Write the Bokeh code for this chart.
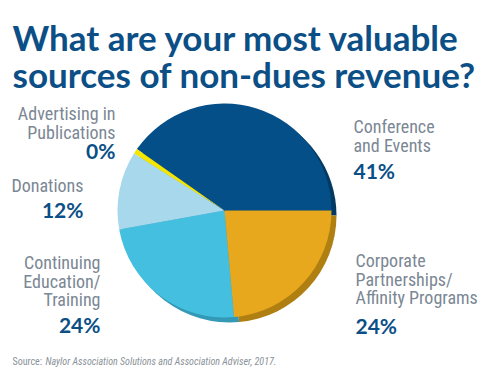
import numpy as np
from bokeh.plotting import figure
from bokeh.models import Range1d, ColumnDataSource
from bokeh.core.properties import value
from bokeh.embed import file_html
from bokeh.resources import INLINE

# ---- data ----
categories = ["Conference\nand Events", "Advertising in\nPublications", "Donations",
              "Continuing\nEducation/\nTraining", "Corporate\nPartnerships/\nAffinity Programs"]
shares = [41, 0.8, 12, 24, 24]          # estimated underlying shares (0% slice is a sliver)
pct_labels = ["41%", "0%", "12%", "24%", "24%"]
title_lines = ["What are your most valuable", "sources of non-dues revenue?"]
source_prefix = "Source:"
source_text = "Naylor Association Solutions and Association Adviser, 2017."

# ---- styles ----
colors = ["#044f87", "#f4e600", "#a8d8ec", "#45bfe0", "#e8a81e"]
shadow_colors = ["#033a63", "#c9bd00", "#86b3c6", "#3399b6", "#b07f12"]
W, H = 484, 375
cx, cy, R = 224, 165, 107
sdx, sdy = 5, -5

p = figure(width=W, height=H, x_range=Range1d(0, W), y_range=Range1d(0, H),
           output_backend="svg", toolbar_location=None, min_border=0)
p.axis.visible = False
p.grid.visible = False
p.outline_line_color = None
p.background_fill_color = "white"

frac = np.array(shares, dtype=float) / sum(shares)
ends = np.cumsum(frac) * 2 * np.pi
starts = np.concatenate([[0.0], ends[:-1]])
src = ColumnDataSource(dict(start=starts, end=ends, color=colors, shadow=shadow_colors))

p.wedge(x=cx + sdx, y=cy + sdy, radius=R, start_angle="start", end_angle="end",
        fill_color="shadow", line_color=None, source=src)
p.wedge(x=cx, y=cy, radius=R, start_angle="start", end_angle="end",
        fill_color="color", line_color=None, source=src)

GRAY = "#7b8794"
BLUE = "#0b4f86"
label_font = value("'Liberation Sans Narrow', 'Roboto Condensed', Roboto")
pct_font = value("Lato")

# label layout: (x, first baseline y in image px, align, pct baseline y in image px)
layout = [
    (353, 134, "left", 178),    # Conference
    (115, 121, "right", 158),   # Advertising
    (83, 193, "right", 217),    # Donations
    (100, 270, "right", 332),   # Continuing
    (355, 268, "left", 333),    # Corporate
]
line_h = 18.5
for cat, pct, (x, y0, align, yp) in zip(categories, pct_labels, layout):
    lines = cat.split("\n")
    p.text(x=[x] * len(lines), y=[383 - (y0 + i * line_h) for i in range(len(lines))],
           text=lines, text_font=label_font, text_font_size="18px",
           text_color=GRAY, text_align=align, text_baseline="alphabetic")
    p.text(x=[x], y=[383 - yp], text=[pct], text_font=pct_font, text_font_size="21px",
           text_font_style="bold", text_color=BLUE, text_align=align, text_baseline="alphabetic")

for i, t in enumerate(title_lines):
    p.text(x=[12], y=[383 - (44 + i * 37)], text=[t], text_font=value("Lato"),
           text_font_size="35px", text_font_style="bold", text_color=BLUE,
           text_align="left", text_baseline="alphabetic")

p.text(x=[12], y=[383 - 369], text=[source_prefix], text_font=label_font,
       text_font_size="10px", text_color="#8a9299", text_baseline="alphabetic")
p.text(x=[45], y=[383 - 369], text=[source_text], text_font=label_font,
       text_font_size="10px", text_font_style="italic", text_color="#8a9299",
       text_baseline="alphabetic")

open("out.html", "w").write(file_html(p, INLINE))
